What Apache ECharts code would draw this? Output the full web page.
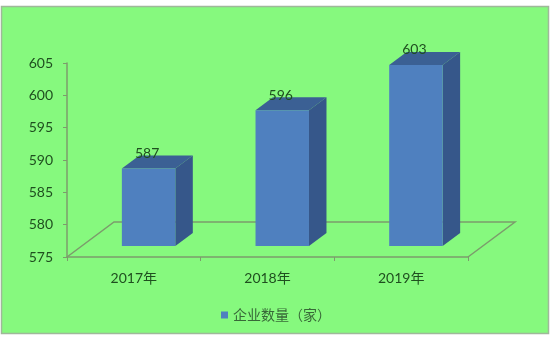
<!DOCTYPE html>
<html>
<head>
<meta charset="utf-8">
<script src="https://cdn.jsdelivr.net/npm/echarts@6/dist/echarts.min.js"></script>
<style>
  html, body { margin: 0; padding: 0; background: #ffffff; }
  #chart { width: 550px; height: 338px; }
</style>
</head>
<body>
<div id="chart"></div>
<script>
// Chart data
const categories = ['2017年', '2018年', '2019年'];
const companyCounts = [587, 596, 603];
const seriesName = '企业数量（家）';
const yMin = 575;
const yMax = 605;
const yStep = 5;

// Pseudo-3D geometry: floor depth vector and the slice of depth a bar occupies
const FLOOR_DX = 47;
const FLOOR_DY = -35;
const BAR_FRONT = 0.314;
const BAR_BACK = 0.686;
const BAR_WIDTH_RATIO = 0.40;

const FONT = 'Lato, "Noto Sans CJK SC", sans-serif';
const LINE_COLOR = '#7c9c6c';
const TEXT_COLOR = '#1f4f1f';

const chart = echarts.init(document.getElementById('chart'));

function renderFloor(params, api) {
  const band = api.size([1, 0])[0];
  const first = api.coord([0, yMin]);
  const last = api.coord([categories.length - 1, yMin]);
  const x0 = first[0] - band / 2;
  const x1 = last[0] + band / 2;
  const y = first[1];
  return {
    type: 'polyline',
    shape: {
      points: [
        [x0, y], [x0 + FLOOR_DX, y + FLOOR_DY],
        [x1 + FLOOR_DX, y + FLOOR_DY], [x1, y]
      ]
    },
    style: { stroke: LINE_COLOR, lineWidth: 1.5, fill: null }
  };
}

function renderBar(params, api) {
  const idx = api.value(0);
  const val = api.value(1);
  const top = api.coord([idx, val]);
  const base = api.coord([idx, yMin]);
  const band = api.size([1, 0])[0];
  const w = band * BAR_WIDTH_RATIO;
  const cx = top[0] + BAR_FRONT * FLOOR_DX;
  const left = cx - w / 2;
  const right = cx + w / 2;
  const yTop = top[1] + BAR_FRONT * FLOOR_DY;
  const yBot = base[1] + BAR_FRONT * FLOOR_DY;
  const ddx = (BAR_BACK - BAR_FRONT) * FLOOR_DX;
  const ddy = (BAR_BACK - BAR_FRONT) * FLOOR_DY;
  return {
    type: 'group',
    children: [
      {
        type: 'polygon',
        shape: { points: [[right, yTop], [right + ddx, yTop + ddy], [right + ddx, yBot + ddy], [right, yBot]] },
        style: { fill: '#36578a' }
      },
      {
        type: 'polygon',
        shape: { points: [[left, yTop], [right, yTop], [right + ddx, yTop + ddy], [left + ddx, yTop + ddy]] },
        style: { fill: '#3b6094' }
      },
      {
        type: 'rect',
        shape: { x: left, y: yTop, width: w, height: yBot - yTop },
        style: { fill: '#4f80bf' }
      },
      {
        type: 'text',
        x: cx - 1.5,
        y: yTop + ddy - 2,
        style: {
          text: String(val),
          fill: TEXT_COLOR,
          font: '14px ' + FONT,
          align: 'center',
          verticalAlign: 'middle'
        }
      }
    ]
  };
}

chart.setOption({
  animation: false,
  backgroundColor: '#ffffff',
  graphic: [{
    type: 'rect',
    z: -10,
    shape: { x: 1.5, y: 6.5, width: 547, height: 327 },
    style: { fill: '#86f97e', stroke: '#9fb89a', lineWidth: 1.5 }
  }],
  grid: { left: 67, right: 82, top: 63, bottom: 81 },
  legend: {
    data: [{ name: seriesName, icon: 'rect' }],
    left: 216,
    top: 303,
    itemWidth: 7,
    itemHeight: 7,
    itemGap: 4,
    textStyle: { color: '#386838', fontSize: 14, fontFamily: FONT }
  },
  xAxis: {
    type: 'category',
    data: categories,
    boundaryGap: true,
    axisLine: { lineStyle: { color: LINE_COLOR, width: 1.5 } },
    axisTick: { show: true, interval: 0, length: 4, lineStyle: { color: LINE_COLOR } },
    axisLabel: { color: TEXT_COLOR, fontSize: 14, fontFamily: FONT, margin: 14 },
    splitLine: { show: false }
  },
  yAxis: {
    type: 'value',
    min: yMin,
    max: yMax,
    interval: yStep,
    axisLine: { show: true, lineStyle: { color: LINE_COLOR, width: 1.5 } },
    axisTick: { show: true, length: 4, lineStyle: { color: LINE_COLOR } },
    axisLabel: { color: TEXT_COLOR, fontSize: 14, fontFamily: FONT, margin: 14 },
    splitLine: { show: false }
  },
  series: [
    {
      name: 'floor',
      type: 'custom',
      renderItem: renderFloor,
      data: [[0]],
      z: 1,
      silent: true
    },
    {
      name: seriesName,
      type: 'custom',
      renderItem: renderBar,
      itemStyle: { color: '#4f80bf' },
      encode: { x: 0, y: 1 },
      data: categories.map((c, i) => [i, companyCounts[i]]),
      z: 2
    }
  ]
});
</script>
</body>
</html>
